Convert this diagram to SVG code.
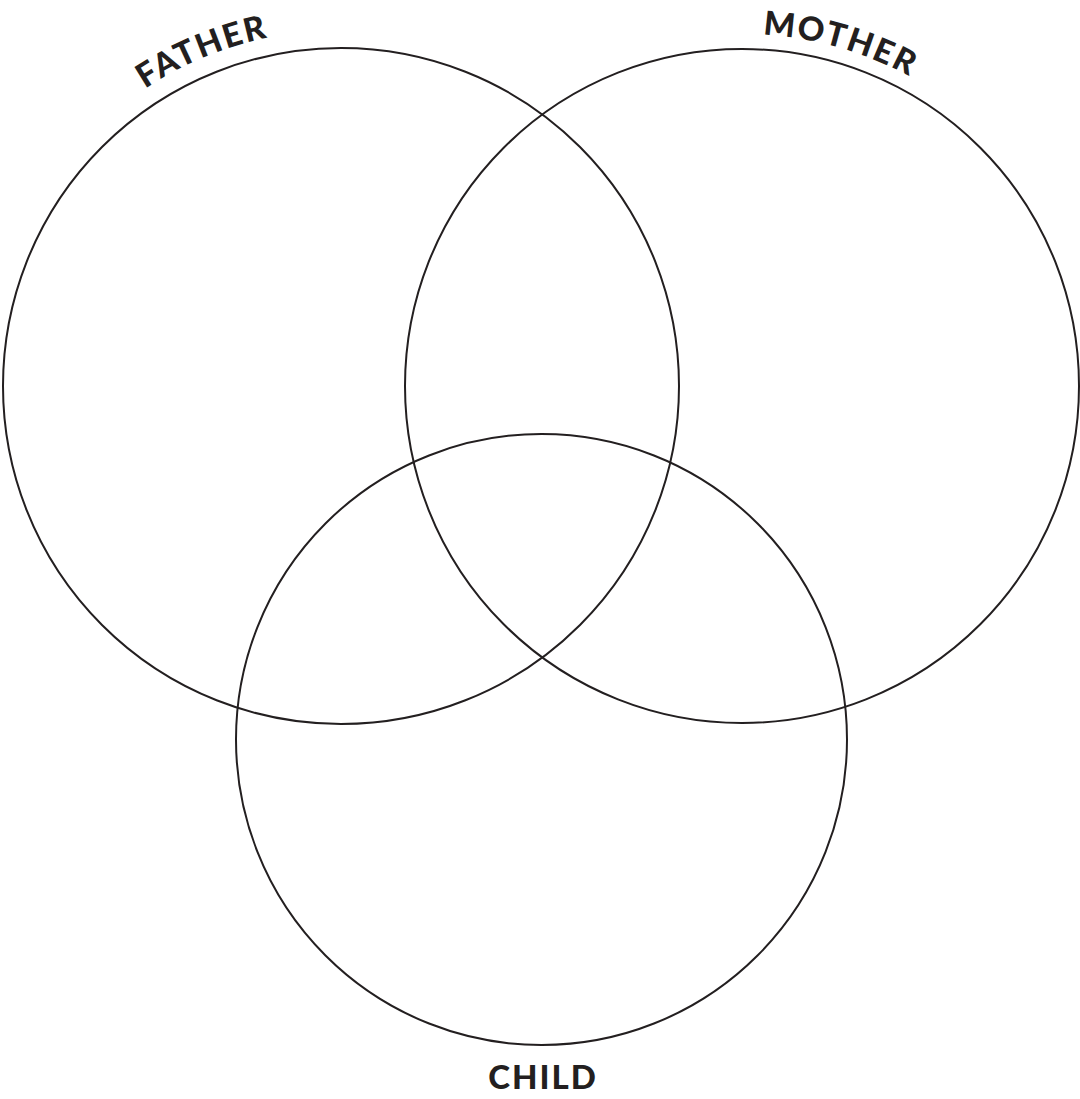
<svg xmlns="http://www.w3.org/2000/svg" width="1080" height="1099" viewBox="0 0 1080 1099">
<style>
.c{fill:none;stroke:#231f20;stroke-width:2}
.t{font-family:Lato,"Open Sans",sans-serif;font-weight:900;font-size:33px;fill:#231f20;letter-spacing:2px}
</style>
<defs>
<path id="fa" d="M 32.7 208 A 356 356 0 0 1 433.1 42.1"/>
<path id="ma" d="M 621.6 55.2 A 352 352 0 0 1 1019.4 169.3"/>
</defs>
<rect width="1080" height="1099" fill="#fff"/>
<g id="father"><circle class="c" cx="341" cy="386" r="338"/><text class="t" text-anchor="middle"><textPath href="#fa" startOffset="50%">FATHER</textPath></text></g>
<g id="mother"><circle class="c" cx="742" cy="386" r="337"/><text class="t" text-anchor="middle"><textPath href="#ma" startOffset="50%">MOTHER</textPath></text></g>
<g id="child"><circle class="c" cx="541.5" cy="739.5" r="305.5"/><text class="t" x="543" y="1089" text-anchor="middle">CHILD</text></g>
<g id="connectors"/>
</svg>
